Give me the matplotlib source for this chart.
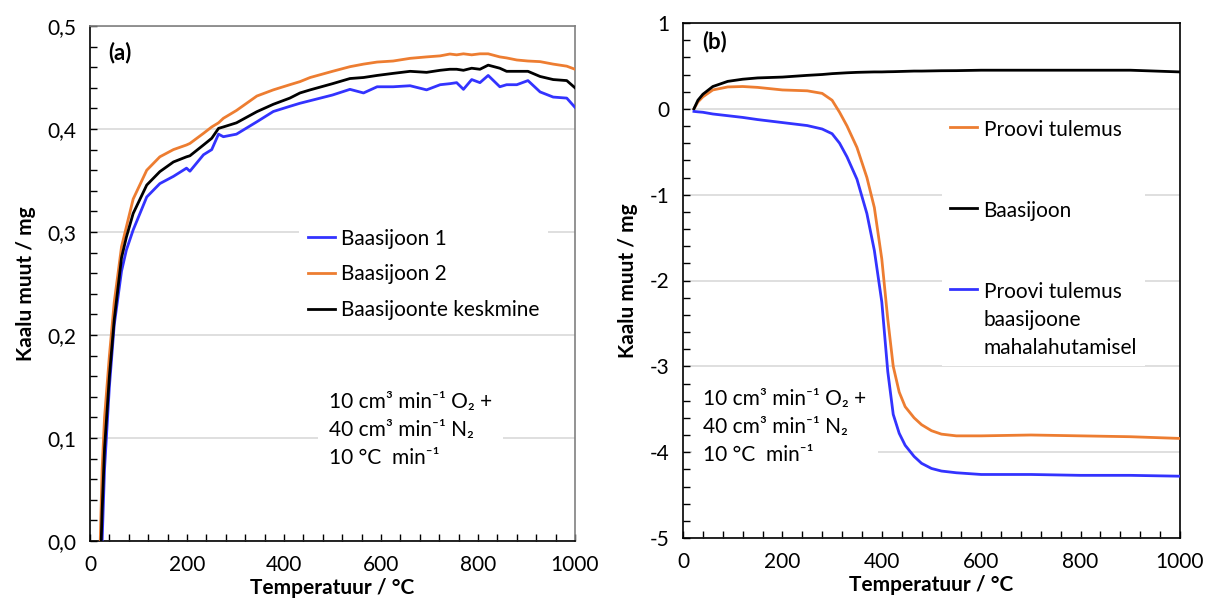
import numpy as np
import matplotlib
matplotlib.use("Agg")
import matplotlib.pyplot as plt
from matplotlib.ticker import MultipleLocator, FuncFormatter

plt.rcParams['font.family'] = ['Lato', 'DejaVu Sans']
plt.rcParams['axes.unicode_minus'] = False

# %% data, panel (a): baseline runs
temp_a = [20, 25, 30, 40, 50, 65, 75, 89, 117, 144,
          172, 199, 206, 234, 251, 265, 275, 302, 344, 378,
          412, 433, 454, 500, 536, 564, 592, 625, 660, 694,
          722, 742, 756, 770, 787, 804, 821, 845, 859, 880,
          903, 928, 955, 983, 1000]
base1 = [-0.08, 0.0, 0.07, 0.15, 0.21, 0.262, 0.2825, 0.302, 0.334, 0.347,
         0.354, 0.362, 0.359, 0.375, 0.380, 0.395, 0.3925, 0.395, 0.407, 0.417,
         0.422, 0.425, 0.4275, 0.433, 0.4385, 0.435, 0.441, 0.441, 0.442, 0.438,
         0.443, 0.444, 0.445, 0.4385, 0.448, 0.445, 0.452, 0.441, 0.443, 0.443,
         0.447, 0.436, 0.431, 0.430, 0.421]
base2 = [-0.02, 0.07, 0.12, 0.18, 0.232, 0.2857, 0.305, 0.332, 0.360, 0.373,
         0.380, 0.3845, 0.386, 0.3958, 0.402, 0.406, 0.4104, 0.418, 0.432, 0.438,
         0.443, 0.446, 0.450, 0.456, 0.4605, 0.463, 0.465, 0.466, 0.4686, 0.470,
         0.471, 0.4728, 0.472, 0.473, 0.472, 0.473, 0.473, 0.470, 0.469, 0.467,
         0.466, 0.4654, 0.463, 0.461, 0.458]
base_mean = [-0.05, 0.03, 0.09, 0.16, 0.215, 0.275, 0.295, 0.318, 0.3456, 0.3586,
             0.368, 0.373, 0.374, 0.3845, 0.391, 0.4006, 0.402, 0.406, 0.4168, 0.424,
             0.430, 0.435, 0.438, 0.444, 0.449, 0.450, 0.452, 0.454, 0.456, 0.455,
             0.457, 0.458, 0.458, 0.457, 0.459, 0.458, 0.462, 0.459, 0.456, 0.456,
             0.456, 0.451, 0.448, 0.447, 0.440]
labels_a = ['Baasijoon 1', 'Baasijoon 2', 'Baasijoonte keskmine']

# %% data, panel (b): sample result and baseline
temp_b = [22, 30, 40, 60, 90, 120, 150, 200, 250, 280, 300, 315, 330, 350, 370, 385, 400,
          412, 423, 435, 447, 465, 480, 500, 520, 550, 600, 700, 800, 900, 1000]
sample = [0.0, 0.08, 0.14, 0.22, 0.255, 0.26, 0.25, 0.22, 0.21, 0.18, 0.10, -0.04, -0.20,
          -0.45, -0.80, -1.15, -1.75, -2.45, -3.00, -3.30, -3.47, -3.60, -3.68, -3.75,
          -3.79, -3.81, -3.81, -3.80, -3.81, -3.82, -3.84]
baseline = [0.0, 0.10, 0.17, 0.26, 0.32, 0.345, 0.36, 0.37, 0.39, 0.40, 0.41, 0.415, 0.42,
            0.425, 0.428, 0.43, 0.43, 0.432, 0.433, 0.435, 0.437, 0.44, 0.44, 0.442, 0.444,
            0.445, 0.45, 0.45, 0.45, 0.45, 0.43]
corrected = [-0.03, -0.035, -0.04, -0.06, -0.08, -0.10, -0.125, -0.16, -0.195, -0.235,
             -0.29, -0.40, -0.56, -0.82, -1.22, -1.65, -2.25, -3.06, -3.56, -3.78, -3.92,
             -4.05, -4.13, -4.19, -4.22, -4.24, -4.26, -4.26, -4.27, -4.27, -4.28]
labels_b = ['Proovi tulemus', 'Baasijoon', 'Proovi tulemus\nbaasijoone\nmahalahutamisel']

gas_text = '10 cm³ min⁻¹ O₂ +\n40 cm³ min⁻¹ N₂\n10 °C  min⁻¹'

BLUE = '#3333ff'
ORANGE = '#ed7d31'
FS = 15
LSP = 1.5

fig = plt.figure(figsize=(12.05, 6.13), dpi=100)
ax1 = fig.add_axes([90 / 1205, 72 / 613, 485 / 1205, 515 / 613])
ax2 = fig.add_axes([683 / 1205, 75 / 613, 497 / 1205, 515 / 613])


def style_axes(ax, spine_color):
    ax.set_xlim(0, 1000)
    ax.xaxis.set_major_locator(MultipleLocator(200))
    ax.xaxis.set_minor_locator(MultipleLocator(40))
    ax.tick_params(which='both', direction='in', top=False, right=False,
                   labelsize=FS, width=1)
    ax.tick_params(which='major', length=5, pad=10)
    ax.tick_params(which='minor', length=5)
    ax.grid(axis='y', which='major', color='#d9d9d9', lw=1.2, zorder=0)
    ax.set_axisbelow(True)
    for s in ['top', 'right']:
        ax.spines[s].set_color(spine_color)
    for s in ax.spines.values():
        s.set_linewidth(1.2)
    ax.set_xlabel('Temperatuur / °C', fontsize=FS, fontweight='bold', labelpad=2)
    ax.set_ylabel('Kaalu muut / mg', fontsize=FS, fontweight='bold', labelpad=8)


# %% panel (a)
l1, = ax1.plot(temp_a, base1, color=BLUE, lw=2, zorder=3)
l2, = ax1.plot(temp_a, base2, color=ORANGE, lw=2, zorder=3)
l3, = ax1.plot(temp_a, base_mean, color='black', lw=2, zorder=4)
ax1.set_ylim(0, 0.5)
ax1.yaxis.set_major_locator(MultipleLocator(0.1))
ax1.yaxis.set_minor_locator(MultipleLocator(0.02))
ax1.yaxis.set_major_formatter(FuncFormatter(lambda v, p: f'{v:.1f}'.replace('.', ',')))
style_axes(ax1, '#808080')
ax1.text(37, 0.474, '(a)', fontsize=16, fontweight='bold', va='center')
leg1 = ax1.legend([l1, l2, l3], labels_a, loc='upper left', bbox_to_anchor=(0.41, 0.643),
                  fontsize=FS, frameon=True, facecolor='white', edgecolor='none',
                  framealpha=1, fancybox=False, handlelength=1.3, handletextpad=0.3,
                  labelspacing=0.75, borderpad=0.4)
ax1.text(493, 0.108, gas_text, fontsize=FS, va='center', ha='left', linespacing=LSP,
         bbox=dict(facecolor='white', edgecolor='none', pad=8), zorder=5)

# %% panel (b)
m1, = ax2.plot(temp_b, sample, color=ORANGE, lw=2, zorder=3)
m2, = ax2.plot(temp_b, baseline, color='black', lw=2, zorder=3)
m3, = ax2.plot(temp_b, corrected, color=BLUE, lw=2, zorder=4)
ax2.set_ylim(-5, 1)
ax2.yaxis.set_major_locator(MultipleLocator(1))
ax2.yaxis.set_minor_locator(MultipleLocator(0.2))
ax2.yaxis.set_major_formatter(FuncFormatter(lambda v, p: f'{v:.0f}'))
style_axes(ax2, 'black')
ax2.text(38, 0.78, '(b)', fontsize=16, fontweight='bold', va='center')
leg2 = ax2.legend([m1, m2, m3], labels_b, loc='upper left', bbox_to_anchor=(0.50, 0.848),
                  fontsize=FS, frameon=True, facecolor='white', edgecolor='none',
                  framealpha=1, fancybox=False, handlelength=1.3, handletextpad=0.3,
                  labelspacing=2.93, borderpad=0.4)
for t in leg2.get_texts():
    t.set_linespacing(LSP)
# put the handle next to the first line of the multi-line label
for row in leg2._legend_handle_box.get_children()[0].get_children():
    row.align = 'top'
ax2.text(41, -3.71, gas_text, fontsize=FS, va='center', ha='left', linespacing=LSP,
         bbox=dict(facecolor='white', edgecolor='none', pad=8), zorder=5)

fig.savefig('out.png', dpi=100)
